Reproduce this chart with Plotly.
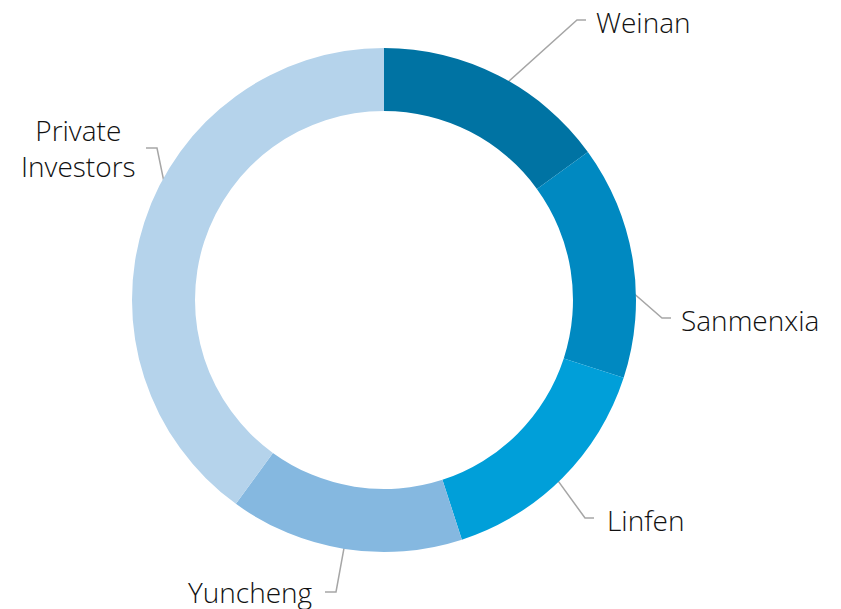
import numpy as np
import plotly.graph_objects as go

# slice shares, clockwise from 12 o'clock
labels = ["Weinan", "Sanmenxia", "Linfen", "Yuncheng", "Private<br>Investors"]
values = [15, 15, 15, 15, 40]
colors = ["#0073A3", "#0089C1", "#009FD9", "#85B8E0", "#B5D3EB"]

OFF = 8                    # browser body margin
W, H = 841 - OFF, 609 - OFF
cx, cy = 384 - OFF, 300 - OFF   # donut centre in px
r_out, r_in = 252, 189

# elbow point of each leader line, label anchor side (page px)
elbows = [(577, 20), (662, 318), (585, 518), (336, 592), (157, 148)]
label_pos = [(594, 22, "left"), (679, 320, "left"), (605, 520, "left"),
             (315, 592, "right"), (78, 148, "center")]

fig = go.Figure()
fig.add_trace(go.Pie(
    labels=labels, values=values, sort=False, direction="clockwise",
    rotation=0, hole=r_in / r_out, textinfo="none", hoverinfo="label+percent",
    marker=dict(colors=colors, line=dict(width=0)),
    domain=dict(x=[(cx - r_out) / W, (cx + r_out) / W],
                y=[1 - (cy + r_out) / H, 1 - (cy - r_out) / H]),
    showlegend=False,
))

# leader lines: start in the middle of the ring at each slice's mid angle
frac = np.cumsum(values) / np.sum(values)
mid = (frac - np.array(values) / np.sum(values) / 2) * 2 * np.pi
r_mid = (r_out + r_in) / 2
for i, a in enumerate(mid):
    x0, y0 = cx + r_mid * np.sin(a), cy - r_mid * np.cos(a)
    ex, ey = elbows[i][0] - OFF, elbows[i][1] - OFF
    stub = 9 if ex > cx else -11
    fig.add_trace(go.Scatter(
        x=[x0, ex, ex + stub], y=[y0, ey, ey], mode="lines",
        line=dict(color="#A6A6A6", width=1.5), hoverinfo="skip", showlegend=False,
    ))
    lx, ly, side = label_pos[i]
    fig.add_annotation(x=lx - OFF, y=ly - OFF, text=labels[i], showarrow=False,
                       xanchor=side, yanchor="middle", align="center",
                       font=dict(family="Open Sans", size=28, color="#111111", weight=300))

fig.update_xaxes(range=[0, W], visible=False, fixedrange=True)
fig.update_yaxes(range=[H, 0], visible=False, fixedrange=True)
fig.update_layout(width=W, height=H, margin=dict(l=0, r=0, t=0, b=0),
                  paper_bgcolor="white", plot_bgcolor="rgba(0,0,0,0)")
fig.write_html("out.html")
